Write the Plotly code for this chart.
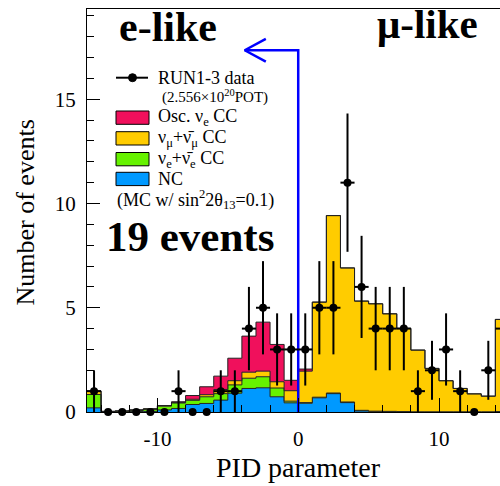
import numpy as np
import plotly.graph_objects as go

# ---------------- data ----------------
bin_edges = list(range(-15, 16))
bin_centers = [e + 0.5 for e in bin_edges[:-1]]

data_counts = [1, 0, 0, 0, 0, 0, 1, 0, 0, 1, 1, 4, 5, 3, 3,
               3, 5, 5, 11, 6, 4, 4, 4, 1, 2, 3, 1, 0, 2, 4]

nc_cc = [0.20, 0.00, 0.00, 0.02, 0.03, 0.10, 0.17, 0.36, 0.41, 0.57, 0.90, 1.13, 1.16, 0.73, 0.44,
         0.42, 0.68, 0.88, 0.45, 0.05, 0.02, 0.01, 0.00, 0.00, 0.00, 0.00, 0.00, 0.00, 0.00, 0.00]
nue_beam = [0.64, 0.02, 0.04, 0.06, 0.10, 0.18, 0.26, 0.20, 0.32, 0.31, 0.40, 0.49, 0.53, 0.42, 0.08,
            0.03, 0.03, 0.03, 0.03, 0.03, 0.02, 0.02, 0.02, 0.01, 0.01, 0.01, 0.01, 0.01, 0.01, 0.02]
numu_cc = [0.16, 0.01, 0.01, 0.02, 0.02, 0.03, 0.03, 0.05, 0.10, 0.20, 0.20, 0.29, 0.27, 0.30, 0.50,
           1.51, 4.56, 8.51, 6.43, 5.24, 5.15, 4.68, 3.99, 2.96, 2.08, 1.49, 1.12, 0.86, 0.75, 4.42]
osc_nue = [0.00, 0.00, 0.00, 0.00, 0.00, 0.00, 0.03, 0.18, 0.38, 0.64, 1.08, 1.73, 2.35, 1.79, 0.50,
           0.10, 0.00, 0.00, 0.00, 0.00, 0.00, 0.00, 0.00, 0.00, 0.00, 0.00, 0.00, 0.00, 0.00, 0.00]

layer_names = ["NC", "nue beam CC", "numu CC", "Osc. nue CC"]
layer_values = [nc_cc, nue_beam, numu_cc, osc_nue]
layer_colors = ["#0099FF", "#66F200", "#FFCC00", "#F0105C"]

x_ticks = [-10, 0, 10]
y_ticks = [0, 5, 10, 15]

CUT = 0.0
ARROW_Y = 17.35
ARROW_TIP = -3.8

# ---------------- layout geometry ----------------
W, H = 500, 486
ML, MR, MT, MB = 87, 0, 9, 74
PW, PH = W - ML - MR, H - MT - MB
X_RANGE = [-15, 14.33]
Y_RANGE = [0, PH / 20.85]

def px(xp):
    return (xp - ML) / PW

def py(yp):
    return (H - MB - yp) / PH

SERIF = "Liberation Serif, Times New Roman, serif"

fig = go.Figure()

cum = np.zeros(len(bin_centers))
for i, (name, vals, col) in enumerate(zip(layer_names, layer_values, layer_colors)):
    cum = cum + np.array(vals)
    yy = list(cum) + [cum[-1]]
    fig.add_trace(go.Scatter(
        x=bin_edges, y=yy, mode="lines", line=dict(shape="hv", color="#222222", width=1),
        fill="tozeroy" if i == 0 else "tonexty", fillcolor=col, name=name,
        showlegend=False, hoverinfo="skip"))

# cut line with arrow
fig.add_trace(go.Scatter(x=[CUT, CUT, ARROW_TIP], y=[0, ARROW_Y, ARROW_Y], mode="lines",
                         line=dict(color="#0000FF", width=2.5), showlegend=False, hoverinfo="skip"))
fig.add_trace(go.Scatter(x=[ARROW_TIP + 1.5, ARROW_TIP, ARROW_TIP + 1.5],
                         y=[ARROW_Y + 0.55, ARROW_Y, ARROW_Y - 0.55], mode="lines",
                         line=dict(color="#0000FF", width=2.5), showlegend=False, hoverinfo="skip"))

counts = np.array(data_counts, dtype=float)
fig.add_trace(go.Scatter(
    x=bin_centers, y=data_counts, mode="markers",
    marker=dict(symbol="circle", size=8, color="black"),
    error_y=dict(type="data", array=list(np.sqrt(counts)), thickness=2, width=0, color="black"),
    error_x=dict(type="data", array=[0.5 if c > 0 else 0 for c in data_counts], thickness=2, width=0, color="black"),
    cliponaxis=False, showlegend=False, name="RUN1-3 data"))

shapes = []
annotations = []

# legend
shapes.append(dict(type="line", xref="paper", yref="paper", x0=px(116), x1=px(148), y0=py(77.7), y1=py(77.7),
                   line=dict(color="black", width=2)))
shapes.append(dict(type="circle", xref="paper", yref="paper", xsizemode="pixel", ysizemode="pixel",
                   xanchor=px(132.5), yanchor=py(77.7), x0=-4, x1=4, y0=-4, y1=4,
                   fillcolor="black", line=dict(color="black", width=1)))
box_tops = [111, 131.7, 152.5, 172.3]
leg_cols = [layer_colors[3], layer_colors[2], layer_colors[1], layer_colors[0]]
leg_txt = ["Osc. ν<sub>e</sub> CC", "ν<sub>μ</sub>+ν̄<sub>μ</sub> CC", "ν<sub>e</sub>+ν̄<sub>e</sub> CC", "NC"]
for t, c, s in zip(box_tops, leg_cols, leg_txt):
    shapes.append(dict(type="rect", xref="paper", yref="paper", x0=px(116), x1=px(149),
                       y0=py(t + 13.3), y1=py(t), fillcolor=c, line=dict(color="black", width=1)))
    annotations.append(dict(text=s, xref="paper", yref="paper", x=px(156), y=py(t + 6.7),
                            xanchor="left", yanchor="middle", showarrow=False,
                            font=dict(family=SERIF, size=18, color="black")))
annotations.append(dict(text="RUN1-3 data", xref="paper", yref="paper", x=px(156), y=py(77.7),
                        xanchor="left", yanchor="middle", showarrow=False,
                        font=dict(family=SERIF, size=18, color="black")))
annotations.append(dict(text="(2.556×10<sup>20</sup>POT)", xref="paper", yref="paper", x=px(160), y=py(96.5),
                        xanchor="left", yanchor="middle", showarrow=False,
                        font=dict(family=SERIF, size=15, color="black")))
annotations.append(dict(text="(MC w/ sin<sup>2</sup>2θ<sub>13</sub>=0.1)", xref="paper", yref="paper",
                        x=px(115), y=py(199.5), xanchor="left", yanchor="middle", showarrow=False,
                        font=dict(family=SERIF, size=18, color="black")))

# big labels
annotations.append(dict(text="<b>e-like</b>", xref="paper", yref="paper", x=px(168), y=py(27),
                        xanchor="center", yanchor="middle", showarrow=False,
                        font=dict(family=SERIF, size=42, color="black")))
annotations.append(dict(text="<b>μ-like</b>", xref="paper", yref="paper", x=px(427), y=py(24),
                        xanchor="center", yanchor="middle", showarrow=False,
                        font=dict(family=SERIF, size=41, color="black")))
annotations.append(dict(text="<b>19 events</b>", xref="paper", yref="paper", x=px(190), y=py(236),
                        xanchor="center", yanchor="middle", showarrow=False,
                        font=dict(family=SERIF, size=43, color="black")))

# axis titles
annotations.append(dict(text="Number of events", xref="paper", yref="paper", x=px(25), y=py(212.5),
                        xanchor="center", yanchor="middle", textangle=-90, showarrow=False,
                        font=dict(family=SERIF, size=26, color="black")))
annotations.append(dict(text="PID parameter", xref="paper", yref="paper", x=px(298.5), y=py(467),
                        xanchor="center", yanchor="middle", showarrow=False,
                        font=dict(family=SERIF, size=28, color="black")))

fig.update_layout(
    width=W, height=H, margin=dict(l=ML, r=MR, t=MT, b=MB, pad=0),
    paper_bgcolor="white", plot_bgcolor="white",
    shapes=shapes, annotations=annotations, showlegend=False,
    font=dict(family=SERIF, color="black"),
)
fig.update_xaxes(range=X_RANGE, tickvals=x_ticks, ticktext=[str(v) for v in x_ticks],
                 showgrid=False, zeroline=False, showline=True, linecolor="black", linewidth=1,
                 mirror=True, ticks="inside", ticklen=14, tickcolor="black", tickwidth=1,
                 ticklabelstandoff=8,
                 minor=dict(ticks="inside", ticklen=7, dtick=2, tick0=0, tickcolor="black", showgrid=False),
                 tickfont=dict(family=SERIF, size=21, color="black"))
fig.update_yaxes(range=Y_RANGE, tickvals=y_ticks, ticktext=[str(v) for v in y_ticks],
                 showgrid=False, zeroline=False, showline=True, linecolor="black", linewidth=1,
                 mirror=False, ticks="inside", ticklen=13, tickcolor="black", tickwidth=1,
                 ticklabelstandoff=6,
                 minor=dict(ticks="inside", ticklen=7, dtick=1, tick0=0, tickcolor="black", showgrid=False),
                 tickfont=dict(family=SERIF, size=21, color="black"))

fig.write_html("out.html")
